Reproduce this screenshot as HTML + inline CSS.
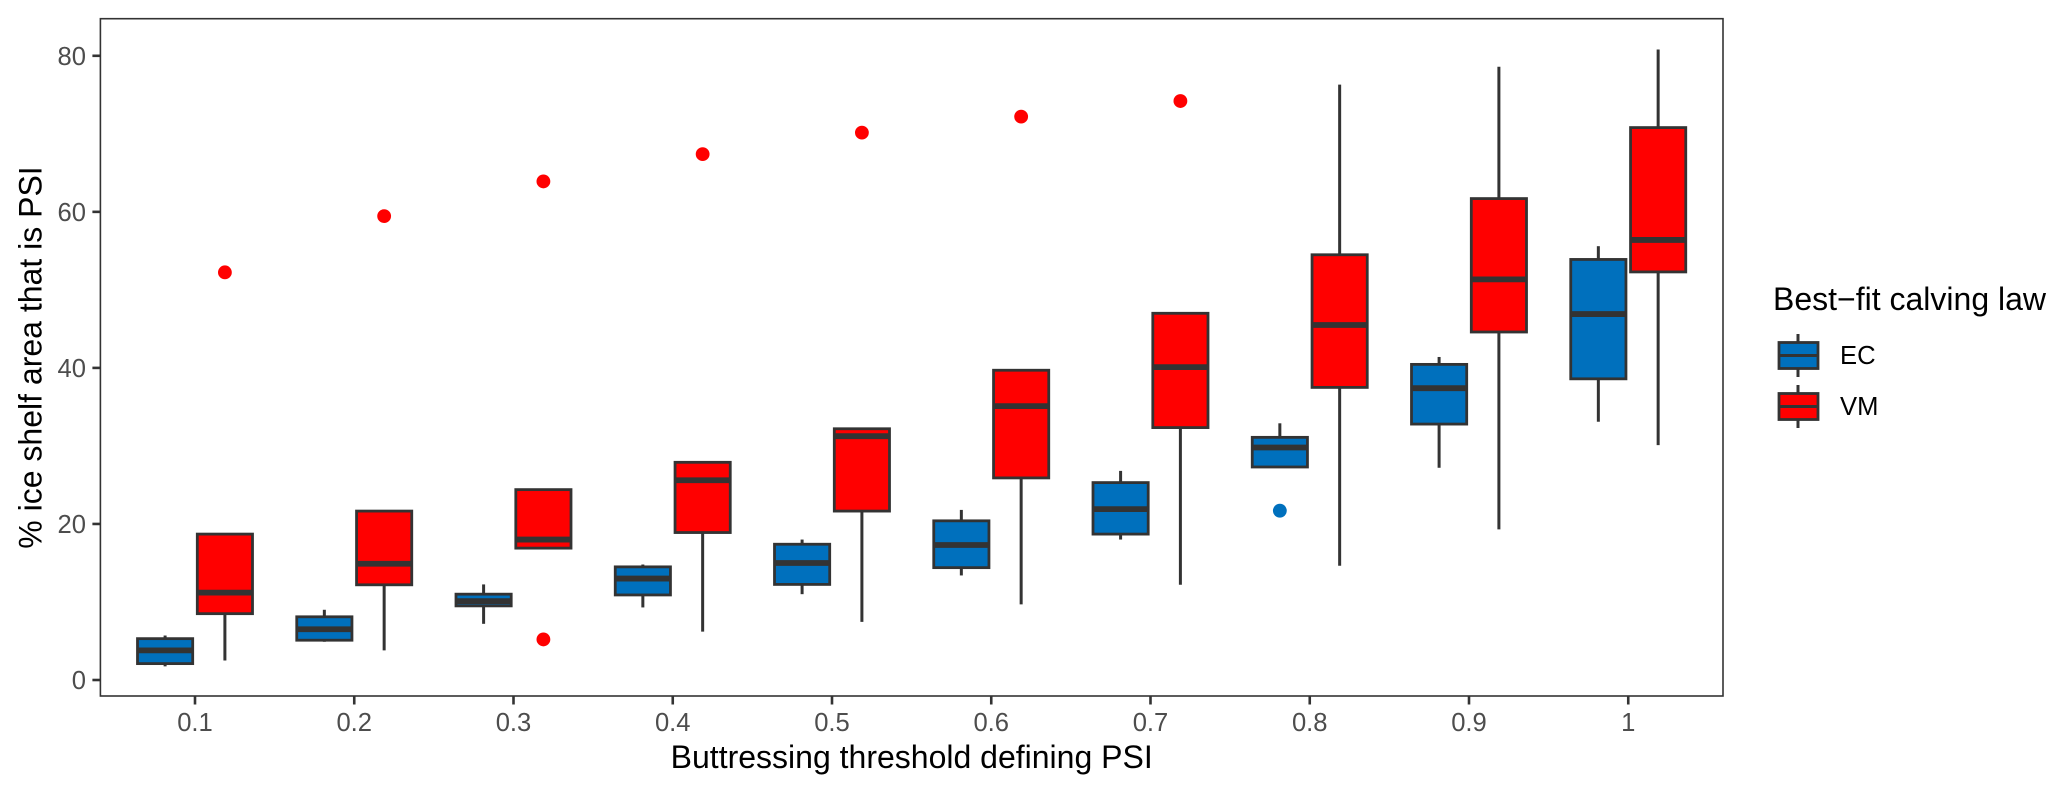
<!DOCTYPE html>
<html lang="en">
<head>
<meta charset="utf-8">
<title>Ice shelf area that is PSI</title>
<style>
html,body{margin:0;padding:0;background:#fff;}
svg{display:block;font-family:"Liberation Sans",Arial,sans-serif;}
</style>
</head>
<body>
<svg id="chart" xmlns="http://www.w3.org/2000/svg" width="2067" height="793" viewBox="0 0 2067 793">
  <rect x="0" y="0" width="2067" height="793" fill="#fff"/>
  <g id="marks"></g>
  <rect x="100.4" y="18.7" width="1622.6" height="677.3" fill="none" stroke="#333" stroke-width="1.6"/>
  <g id="axes"></g>
  <text x="911.7" y="768" text-anchor="middle" font-size="32" fill="#000">Buttressing threshold defining PSI</text>
  <text transform="translate(41.5 357.5) rotate(-90)" text-anchor="middle" font-size="32" fill="#000">% ice shelf area that is PSI</text>
  <g>
    <text x="1773" y="310" font-size="32" fill="#000">Best−fit calving law</text>
    <g>
      <line x1="1798" x2="1798" y1="334" y2="377" stroke="#333" stroke-width="3"/>
      <rect x="1779" y="342.5" width="39" height="26" fill="#0070BD" stroke="#333" stroke-width="2.8"/>
      <line x1="1779" x2="1818" y1="355.5" y2="355.5" stroke="#333" stroke-width="3"/>
    </g>
    <text x="1840" y="364" font-size="25.6" fill="#000">EC</text>
    <g>
      <line x1="1798" x2="1798" y1="385" y2="428" stroke="#333" stroke-width="3"/>
      <rect x="1779" y="393.5" width="39" height="26" fill="#FF0000" stroke="#333" stroke-width="2.8"/>
      <line x1="1779" x2="1818" y1="406.5" y2="406.5" stroke="#333" stroke-width="3"/>
    </g>
    <text x="1840" y="415" font-size="25.6" fill="#000">VM</text>
  </g>
</svg>
<script>
const categories = [0.1, 0.2, 0.3, 0.4, 0.5, 0.6, 0.7, 0.8, 0.9, 1];
const xTickLabels = ["0.1", "0.2", "0.3", "0.4", "0.5", "0.6", "0.7", "0.8", "0.9", "1"];
const yTicks = [0, 20, 40, 60, 80];
const yTickLabels = ["0", "20", "40", "60", "80"];

const ecLow    = [1.75, 4.9, 7.2, 9.3, 11, 13.4, 18, 27.3, 27.2, 33.1];
const ecQ1     = [2.1, 5.1, 9.5, 10.9, 12.25, 14.4, 18.7, 27.3, 32.8, 38.6];
const ecMedian = [3.8, 6.5, 10.1, 13, 15, 17.3, 21.9, 29.8, 37.4, 46.9];
const ecQ3     = [5.3, 8.1, 11, 14.5, 17.4, 20.4, 25.3, 31.1, 40.45, 53.9];
const ecHigh   = [5.7, 9, 12.25, 14.8, 18, 21.8, 26.8, 32.9, 41.4, 55.6];
const ecOutlierCats = [0.8];
const ecOutlierVals = [21.7];

const vmLow    = [2.5, 3.8, 16.9, 6.2, 7.45, 9.7, 12.2, 14.65, 19.3, 30.1];
const vmQ1     = [8.5, 12.2, 16.9, 18.9, 21.65, 25.9, 32.35, 37.5, 44.6, 52.3];
const vmMedian = [11.2, 14.9, 18, 25.6, 31.25, 35.1, 40.1, 45.5, 51.35, 56.4];
const vmQ3     = [18.7, 21.65, 24.4, 27.9, 32.2, 39.7, 47, 54.5, 61.7, 70.8];
const vmHigh   = [18.7, 21.65, 24.4, 27.9, 32.2, 39.7, 47, 76.3, 78.6, 80.8];
const vmOutlierCats = [0.1, 0.2, 0.3, 0.3, 0.4, 0.5, 0.6, 0.7];
const vmOutlierVals = [52.25, 59.45, 63.9, 5.2, 67.4, 70.15, 72.2, 74.2];

const SVGNS = "http://www.w3.org/2000/svg";
const xScale = v => 195 + (v - 0.1) * 1592.5;
const yScale = v => 680 - v * 7.8025;
const dodge = 29.9;
const boxWidth = 55.2;
const DARK = "#333";

function make(parent, tag, attrs) {
  const el = document.createElementNS(SVGNS, tag);
  for (const k in attrs) el.setAttribute(k, attrs[k]);
  parent.appendChild(el);
  return el;
}

const marks = document.getElementById("marks");
const axes = document.getElementById("axes");

function drawSeries(key, fill, offset, low, q1, med, q3, high) {
  categories.forEach((c, i) => {
    const cx = xScale(c) + offset;
    const g = make(marks, "g", {});
    
    

    const upper = make(g, "line", {x1: cx, x2: cx, y1: yScale(high[i]), y2: yScale(q3[i]), stroke: DARK, "stroke-width": 3});
    
    

    const lower = make(g, "line", {x1: cx, x2: cx, y1: yScale(q1[i]), y2: yScale(low[i]), stroke: DARK, "stroke-width": 3});
    
    

    const box = make(g, "rect", {x: cx - boxWidth / 2, y: yScale(q3[i]), width: boxWidth, height: yScale(q1[i]) - yScale(q3[i]), fill: fill, stroke: DARK, "stroke-width": 2.8});
    
    

    const median = make(g, "line", {x1: cx - boxWidth / 2, x2: cx + boxWidth / 2, y1: yScale(med[i]), y2: yScale(med[i]), stroke: DARK, "stroke-width": 5.8});
    
    
  });
}

function drawOutliers(key, fill, offset, cats, vals) {
  cats.forEach((c, i) => {
    const pt = make(marks, "circle", {cx: xScale(c) + offset, cy: yScale(vals[i]), r: 6.9, fill: fill});
    
    
  });
}

drawSeries("ec", "#0070BD", -dodge, ecLow, ecQ1, ecMedian, ecQ3, ecHigh);
drawSeries("vm", "#FF0000", dodge, vmLow, vmQ1, vmMedian, vmQ3, vmHigh);
drawOutliers("ec", "#0070BD", -dodge, ecOutlierCats, ecOutlierVals);
drawOutliers("vm", "#FF0000", dodge, vmOutlierCats, vmOutlierVals);

categories.forEach((c, i) => {
  const x = xScale(c);
  const tick = make(axes, "line", {x1: x, x2: x, y1: 696, y2: 704.5, stroke: DARK, "stroke-width": 2.6});
  
  

  const label = make(axes, "text", {x: x, y: 731, "text-anchor": "middle", "font-size": 25.6, fill: "#4d4d4d"});
  
  
  label.textContent = xTickLabels[i];
});

yTicks.forEach((v, i) => {
  const y = yScale(v);
  const tick = make(axes, "line", {x1: 92.4, x2: 100.4, y1: y, y2: y, stroke: DARK, "stroke-width": 2.6});
  
  

  const label = make(axes, "text", {x: 86, y: y + 9, "text-anchor": "end", "font-size": 25.6, fill: "#4d4d4d"});
  
  
  label.textContent = yTickLabels[i];
});
</script>
</body>
</html>
